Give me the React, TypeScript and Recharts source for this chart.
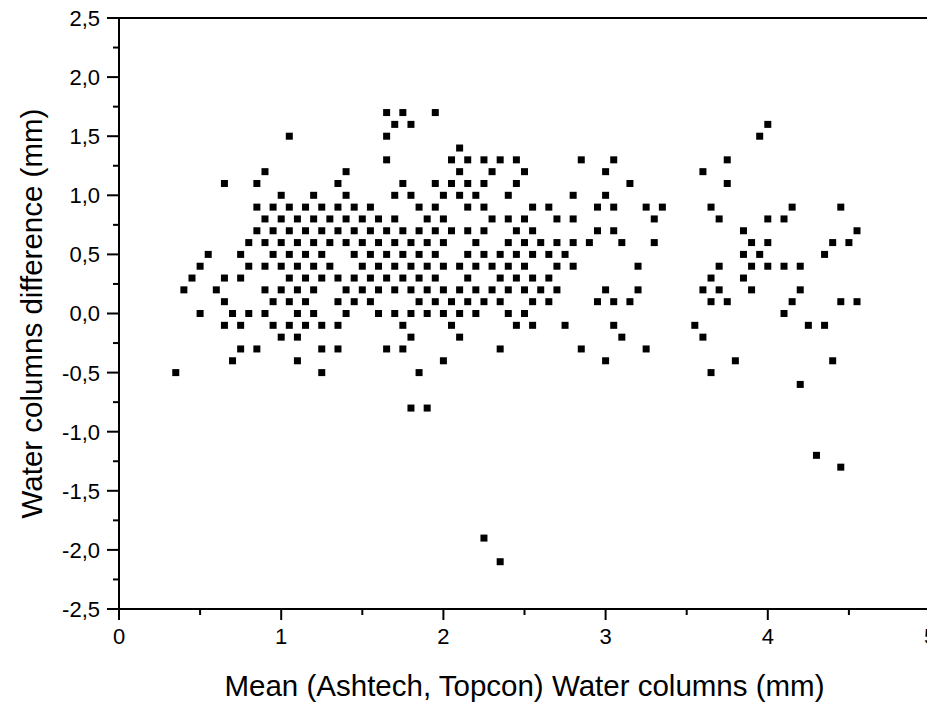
import React from 'react';
import { ScatterChart, Scatter, XAxis, YAxis, ReferenceLine, Label } from 'recharts';

const FONT = '"Liberation Sans", Arial, sans-serif';

// Difference levels (mm) and the mean values observed at each level
const DIFF_LEVELS = [1.7, 1.6, 1.5, 1.4, 1.3, 1.2, 1.1, 1.0, 0.9, 0.8, 0.7, 0.6, 0.5, 0.4, 0.3, 0.2, 0.1, 0.0, -0.1, -0.2, -0.3, -0.4, -0.5, -0.6, -0.8, -1.2, -1.3, -1.9, -2.1];

const MEANS_BY_LEVEL: number[][] = [
  [1.65, 1.75, 1.95],
  [1.7, 1.8, 4.0],
  [1.05, 1.65, 3.95],
  [2.1],
  [1.65, 2.05, 2.15, 2.25, 2.35, 2.45, 2.85, 3.05, 3.75],
  [0.9, 1.4, 2.1, 2.3, 2.5, 3.0, 3.6],
  [0.65, 0.85, 1.35, 1.75, 1.95, 2.05, 2.15, 2.25, 2.45, 3.15, 3.75],
  [1.0, 1.2, 1.4, 1.7, 1.8, 2.0, 2.1, 2.2, 2.4, 2.8, 3.0],
  [0.85, 0.95, 1.05, 1.15, 1.25, 1.35, 1.45, 1.55, 1.85, 1.95, 2.15, 2.25, 2.55, 2.65, 2.95, 3.05, 3.25, 3.35, 3.65, 4.15, 4.45],
  [0.9, 1.0, 1.1, 1.2, 1.3, 1.4, 1.5, 1.6, 1.7, 1.9, 2.0, 2.3, 2.4, 2.5, 2.7, 2.8, 3.3, 3.7, 4.0, 4.1],
  [0.85, 0.95, 1.05, 1.15, 1.25, 1.35, 1.45, 1.55, 1.65, 1.75, 1.85, 1.95, 2.05, 2.15, 2.25, 2.45, 2.55, 2.95, 3.05, 3.85, 4.55],
  [0.8, 0.9, 1.0, 1.1, 1.2, 1.3, 1.4, 1.5, 1.6, 1.7, 1.8, 1.9, 2.0, 2.2, 2.4, 2.5, 2.6, 2.7, 2.8, 2.9, 3.1, 3.3, 3.9, 4.0, 4.4, 4.5],
  [0.55, 0.75, 0.95, 1.05, 1.15, 1.25, 1.45, 1.55, 1.65, 1.75, 1.85, 1.95, 2.15, 2.25, 2.35, 2.45, 2.55, 2.65, 2.75, 3.85, 3.95, 4.35],
  [0.5, 0.8, 0.9, 1.0, 1.1, 1.2, 1.3, 1.5, 1.6, 1.7, 1.8, 1.9, 2.0, 2.1, 2.2, 2.3, 2.4, 2.5, 2.7, 2.8, 3.2, 3.7, 3.9, 4.0, 4.1, 4.2],
  [0.45, 0.65, 0.75, 1.05, 1.15, 1.25, 1.35, 1.45, 1.55, 1.65, 1.75, 1.85, 1.95, 2.15, 2.35, 2.45, 2.55, 2.65, 3.65, 3.85],
  [0.4, 0.6, 0.9, 1.0, 1.1, 1.2, 1.4, 1.5, 1.6, 1.7, 1.8, 1.9, 2.0, 2.1, 2.2, 2.3, 2.4, 2.5, 2.6, 2.7, 3.0, 3.2, 3.6, 3.7, 3.9, 4.2],
  [0.65, 0.95, 1.05, 1.15, 1.35, 1.45, 1.55, 1.85, 1.95, 2.05, 2.15, 2.25, 2.35, 2.55, 2.65, 2.95, 3.05, 3.15, 3.65, 3.75, 4.15, 4.45, 4.55],
  [0.5, 0.7, 0.8, 0.9, 1.1, 1.2, 1.4, 1.6, 1.7, 1.8, 1.9, 2.0, 2.1, 2.2, 2.4, 2.5, 4.1],
  [0.65, 0.75, 0.95, 1.05, 1.15, 1.25, 1.35, 1.75, 2.05, 2.45, 2.55, 2.75, 3.05, 3.55, 4.25, 4.35],
  [1.0, 1.1, 1.8, 2.1, 3.1, 3.6],
  [0.75, 0.85, 1.25, 1.35, 1.65, 1.75, 2.35, 2.85, 3.25],
  [0.7, 1.1, 2.0, 3.0, 3.8, 4.4],
  [0.35, 1.25, 1.85, 3.65],
  [4.2],
  [1.8, 1.9],
  [4.3],
  [4.45],
  [2.25],
  [2.35],
];

const X_TICKS = [0, 0.5, 1, 1.5, 2, 2.5, 3, 3.5, 4, 4.5, 5];
const Y_TICKS = [-2.5, -2.25, -2, -1.75, -1.5, -1.25, -1, -0.75, -0.5, -0.25, 0, 0.25, 0.5, 0.75, 1, 1.25, 1.5, 1.75, 2, 2.25, 2.5];

const X_TITLE = 'Mean (Ashtech, Topcon) Water columns (mm)';
const Y_TITLE = 'Water columns difference (mm)';

const data = DIFF_LEVELS.flatMap((d, i) => MEANS_BY_LEVEL[i].map((m) => ({ x: m, y: d })));

const X_TICK_SIZE = 11;
const X_TICK_MARGIN = 8;
const Y_TICK_SIZE = 12;
const Y_TICK_MARGIN = 7;
const TICK_FONT = 22;
const TITLE_FONT = 29.5;

const isMult = (v: number, step: number) => Math.abs(v / step - Math.round(v / step)) < 1e-6;

const XTick = (props: any) => {
  const { x, y, payload } = props;
  const axisY = y - X_TICK_SIZE - X_TICK_MARGIN;
  const major = isMult(payload.value, 1);
  return (
    <g>
      <line x1={x} x2={x} y1={axisY} y2={axisY + (major ? X_TICK_SIZE : 6)} stroke="#000" strokeWidth={2} />
      {major && (
        <text x={x} y={y} dy="0.71em" textAnchor="middle" fontFamily={FONT} fontSize={TICK_FONT} fill="#000">
          {String(payload.value)}
        </text>
      )}
    </g>
  );
};

const YTick = (props: any) => {
  const { x, y, payload } = props;
  const axisX = x + Y_TICK_SIZE + Y_TICK_MARGIN;
  const major = isMult(payload.value, 0.5);
  return (
    <g>
      <line x1={axisX} x2={axisX - (major ? Y_TICK_SIZE : 6)} y1={y} y2={y} stroke="#000" strokeWidth={2} />
      {major && (
        <text x={x} y={y} dy="0.36em" textAnchor="end" fontFamily={FONT} fontSize={TICK_FONT} fill="#000">
          {payload.value.toFixed(1).replace('.', ',')}
        </text>
      )}
    </g>
  );
};

const Square = (props: any) => {
  const { cx, cy } = props;
  if (cx == null || cy == null) return null;
  return <rect x={cx - 3.5} y={cy - 3.5} width={7} height={7} fill="#000" />;
};

const YTitle = (props: any) => {
  const vb = props.viewBox || {};
  const cx = 31;
  const cy = vb.y + vb.height / 2;
  return (
    <text x={cx} y={cy} transform={`rotate(-90 ${cx} ${cy})`} textAnchor="middle" dominantBaseline="central" fontFamily={FONT} fontSize={TITLE_FONT} fill="#000">
      {Y_TITLE}
    </text>
  );
};

const XTitle = (props: any) => {
  const vb = props.viewBox || {};
  const cx = vb.x + vb.width / 2;
  const cy = 685;
  return (
    <text x={cx} y={cy} textAnchor="middle" dominantBaseline="central" fontFamily={FONT} fontSize={TITLE_FONT} fill="#000">
      {X_TITLE}
    </text>
  );
};

export default function App() {
  return (
    <div style={{ width: 935, height: 702, margin: '-8px 0 0 -8px', background: '#fff' }}>
      <ScatterChart width={935} height={702} margin={{ top: 18, right: 5, bottom: 0, left: 0 }}>
        <XAxis
          type="number"
          dataKey="x"
          domain={[0, 5]}
          ticks={X_TICKS}
          interval={0}
          height={93}
          tickSize={X_TICK_SIZE}
          tickMargin={X_TICK_MARGIN}
          tickLine={false}
          tick={<XTick />}
          axisLine={{ stroke: '#000', strokeWidth: 2 }}
          allowDataOverflow
        >
          <Label content={<XTitle />} />
        </XAxis>
        <YAxis
          type="number"
          dataKey="y"
          domain={[-2.5, 2.5]}
          ticks={Y_TICKS}
          interval={0}
          width={119}
          tickSize={Y_TICK_SIZE}
          tickMargin={Y_TICK_MARGIN}
          tickLine={false}
          tick={<YTick />}
          axisLine={{ stroke: '#000', strokeWidth: 2 }}
          allowDataOverflow
        >
          <Label content={<YTitle />} />
        </YAxis>
        <ReferenceLine y={2.5} stroke="#000" strokeWidth={2} ifOverflow="visible" />
        <ReferenceLine x={5} stroke="#000" strokeWidth={2} ifOverflow="visible" />
        <Scatter data={data} fill="#000" shape={<Square />} isAnimationActive={false} />
      </ScatterChart>
    </div>
  );
}
